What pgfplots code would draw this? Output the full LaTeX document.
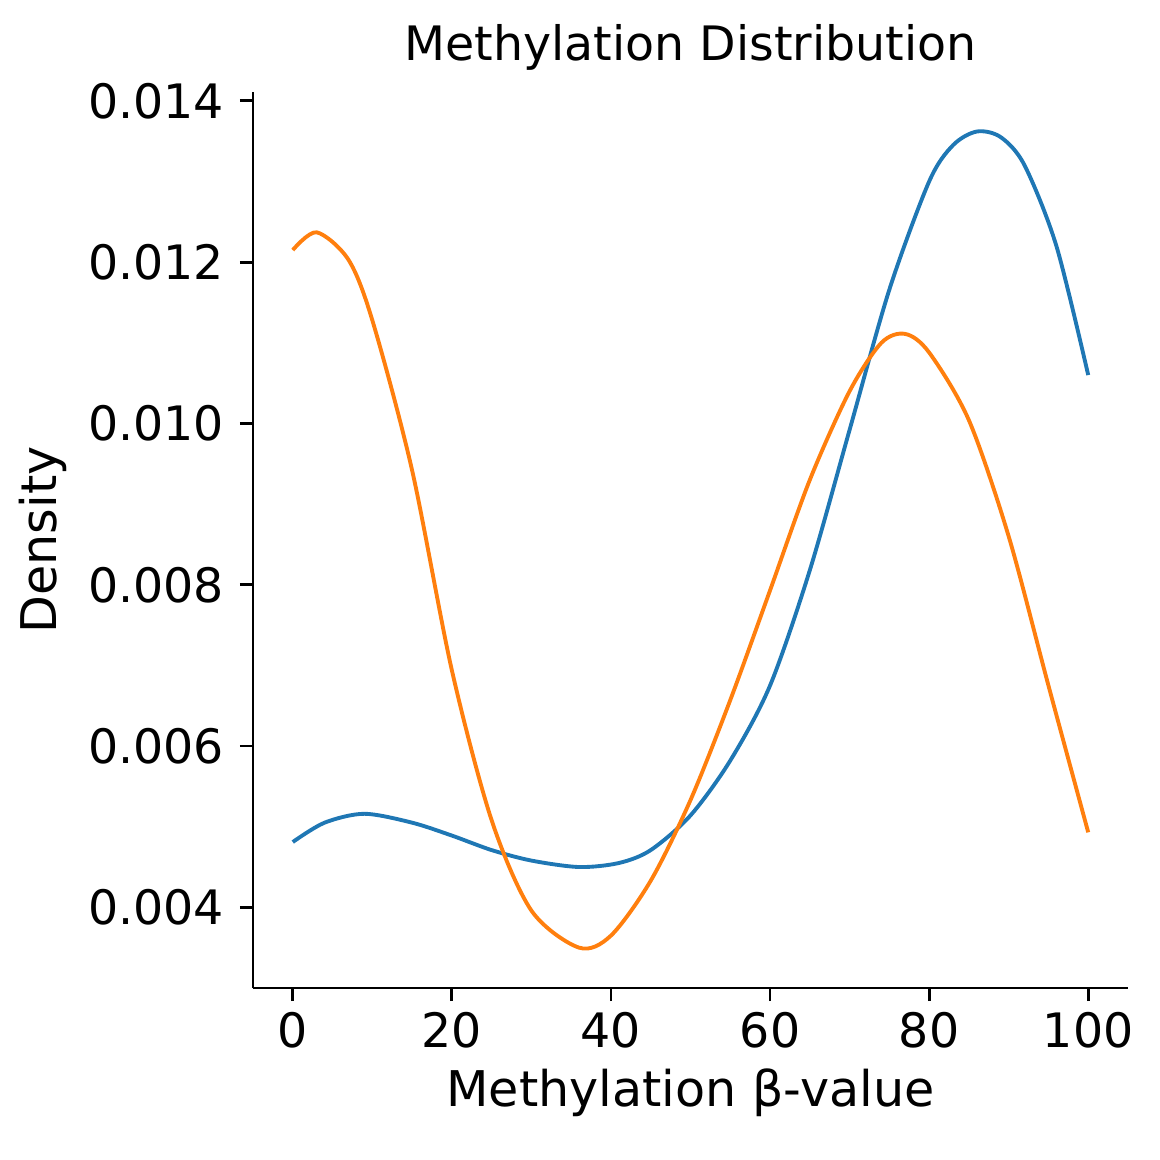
\documentclass[border=0pt]{standalone}
\usepackage{pgfplots}
\pgfplotsset{compat=1.18}
\usepackage{fontspec}
\setmainfont{DejaVu Sans}
\definecolor{mblue}{HTML}{1F77B4}
\definecolor{morange}{HTML}{FF7F0E}
\begin{document}
\fontsize{13}{15}\selectfont
\begin{tikzpicture}
\path[use as bounding box] (-25.3mm,-17.2mm) rectangle (90.6mm,98.8mm);
\begin{axis}[
  at={(0,0)}, anchor=south west,
  scale only axis, width=87.5mm, height=89.6mm,
  xmin=-5, xmax=105, ymin=0.003, ymax=0.01411,
  axis x line*=bottom, axis y line*=left,
  axis line style={line width=0.8pt},
  tick style={line width=0.8pt, black},
  tick align=outside, major tick length=1.3mm,
  xtick={0,20,40,60,80,100},
  ytick={0.004,0.006,0.008,0.010,0.012,0.014},
  scaled y ticks=false,
  yticklabel style={/pgf/number format/.cd, fixed, fixed zerofill, precision=3},
  /pgf/number format/assume math mode=true,
  xlabel={Methylation β-value}, ylabel={Density},
  title={Methylation Distribution},
  label style={font=\fontsize{14}{16}\selectfont},
  xlabel style={yshift=1mm},
  ylabel style={yshift=-1mm},
  title style={font=\fontsize{13.5}{15}\selectfont, yshift=-1.5mm},
  ticklabel style={font=\fontsize{13.5}{15}\selectfont},
  xticklabel style={yshift=0.5mm},
]
\addplot[mblue, line width=1.1pt, smooth, tension=0.5] coordinates {
(0,0.00481)(4,0.00505)(9,0.00516)(15,0.00505)(20,0.00489)(25,0.00471)(30,0.00458)(36,0.00450)(41,0.00455)(45,0.00471)(50,0.00514)(55,0.00582)(60,0.00675)(65,0.00818)(70,0.00992)(75,0.01166)(80,0.01300)(83,0.01345)(86,0.01362)(89,0.01355)(92,0.01320)(96,0.0122)(100,0.0106)};
\addplot[morange, line width=1.1pt, smooth, tension=0.5] coordinates {
(0,0.01215)(3,0.01237)(7,0.01203)(10,0.01128)(15,0.00942)(20,0.00694)(25,0.00508)(30,0.00396)(36,0.00350)(40,0.00365)(45,0.00433)(50,0.00533)(55,0.00657)(60,0.00793)(65,0.0093)(70,0.01040)(74,0.01100)(77,0.01111)(80,0.01088)(85,0.01004)(90,0.00860)(95,0.00675)(100,0.00493)};
\end{axis}
\end{tikzpicture}
\end{document}
